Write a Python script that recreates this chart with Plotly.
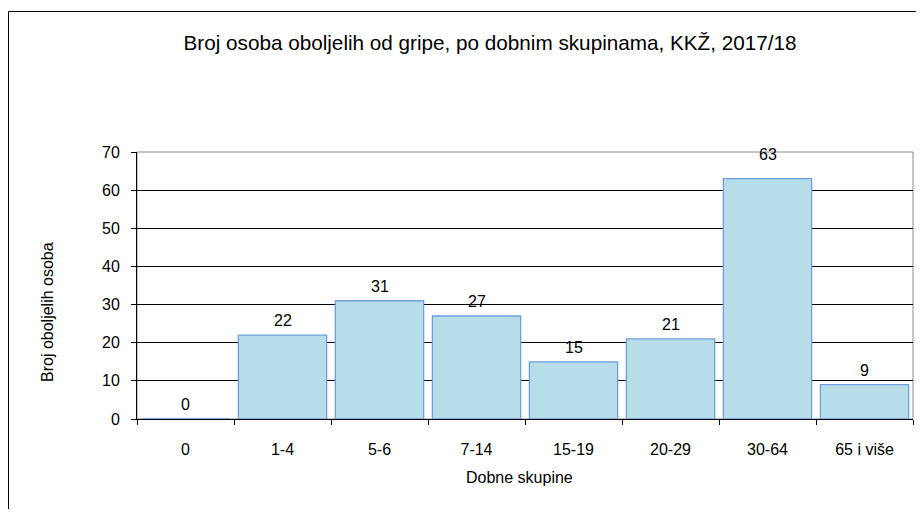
import plotly.graph_objects as go

categories = ["0", "1-4", "5-6", "7-14", "15-19", "20-29", "30-64", "65 i više"]
values = [0, 22, 31, 27, 15, 21, 63, 9]
y_ticks = [0, 10, 20, 30, 40, 50, 60, 70]

FONT = "Liberation Sans, Arial, sans-serif"

# figure sits at (8,8) in the page because of the body margin
W, H = 908, 501
L, R, T, B = 129, 3, 144, 90
pw, ph = W - L - R, H - T - B

fig = go.Figure()
fig.add_trace(go.Bar(
    x=categories, y=values,
    marker=dict(color="#b7dde8", line=dict(color="#6f9fdc", width=1.3)),
    width=0.91,
    hoverinfo="x+y",
))

extra_shift = {"30-64": 10}
for c, v in zip(categories, values):
    fig.add_annotation(x=c, y=v, text=str(v), showarrow=False,
                       yanchor="bottom", yshift=4 + extra_shift.get(c, 0),
                       font=dict(family=FONT, size=16, color="#000"))

fig.update_layout(
    width=W, height=H,
    margin=dict(l=L, r=R, t=T, b=B, autoexpand=False),
    paper_bgcolor="white", plot_bgcolor="white",
    showlegend=False,
    title=dict(text="Broj osoba oboljelih od gripe, po dobnim skupinama, KKŽ, 2017/18",
               x=(482 - L) / pw, xref="paper", xanchor="center",
               y=1 - 35 / H, yanchor="middle",
               font=dict(family=FONT, size=20.7, color="#000")),
    font=dict(family=FONT, size=16, color="#000"),
    bargap=0.09,
)
fig.update_xaxes(
    type="category", tickson="boundaries", ticks="outside", ticklen=5,
    tickcolor="#000", showline=True, linecolor="#000", linewidth=1,
    showgrid=False, ticklabelstandoff=16,
    tickfont=dict(family=FONT, size=16, color="#000"),
)
fig.update_yaxes(
    range=[0, 70], tickvals=y_ticks, ticks="outside", ticklen=5,
    tickcolor="#000", showline=True, linecolor="#000", linewidth=1,
    showgrid=True, gridcolor="#000", gridwidth=1, zeroline=False,
    ticklabelstandoff=8,
    tickfont=dict(family=FONT, size=16, color="#000"),
)

# axis titles
fig.add_annotation(text="Dobne skupine", xref="paper", yref="paper",
                   x=(511 - L) / pw, y=(H - B - 469) / ph, showarrow=False,
                   xanchor="center", yanchor="middle",
                   font=dict(family=FONT, size=16, color="#000"))
fig.add_annotation(text="Broj oboljelih osoba", xref="paper", yref="paper",
                   x=(39 - L) / pw, y=(H - B - 304) / ph, showarrow=False,
                   textangle=-90, xanchor="center", yanchor="middle",
                   font=dict(family=FONT, size=16, color="#000"))

# plot area border (gray)
fig.add_shape(type="rect", xref="paper", yref="paper", x0=0, y0=0, x1=1, y1=1,
              line=dict(color="#8c8c8c", width=1), layer="below")
# outer chart border
fig.add_shape(type="rect", xref="paper", yref="paper",
              x0=(0.5 - L) / pw, x1=(W + 20 - L) / pw,
              y0=-(H + 20 - (H - B)) / ph, y1=((H - B) - 3.5) / ph,
              line=dict(color="#000", width=1))

fig.write_html("out.html")
